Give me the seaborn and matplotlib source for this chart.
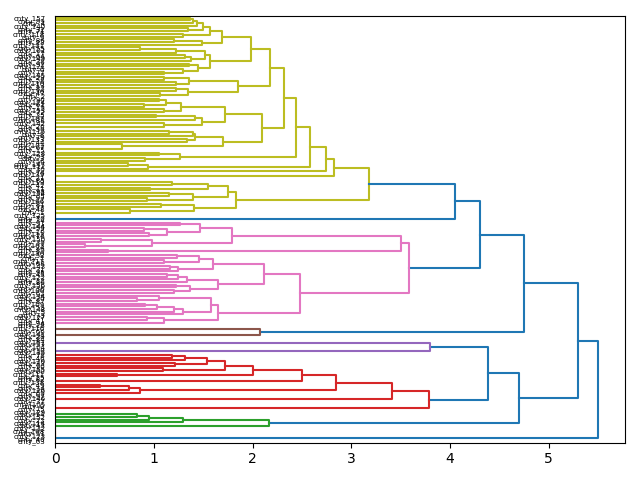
import matplotlib
matplotlib.use("Agg")
import matplotlib.pyplot as plt
import pandas as pd
import seaborn as sns

o = 0  # a leaf

# yellow cluster pieces (top of the chart)
yel_a = [1.57, [1.50, [1.44, [1.40, [1.37, o, o], o], o], [1.35, o, o]], [1.30, o, o]]
yel_b = [1.49, [1.20, o, o], o]
yel_c = [1.57, [1.52, [1.23, [0.86, o, o], o], [1.38, [1.32, o, o], o]],
         [1.45, [1.36, o, o], [1.30, o, [1.10, o, o]]]]
yel_d = [1.85, [1.36, [1.10, o, o], [1.22, o, o]], [1.35, [1.22, o, o], [1.06, o, o]]]
yel_e = [2.10, [1.72, [1.28, [1.12, [1.05, o, o], [0.90, o, o]], [1.10, o, o]],
                [1.49, [1.42, [1.02, o, o], o], [1.10, o, [0.0, o, o]]]],
         [1.70, [1.42, [1.40, [1.15, o, o], o], [1.34, o, o]], [0.68, o, [0.0, o, o]]]]
yel_f = [1.27, [1.05, o, o], [0.91, o, o]]
yel_g = [0.94, [0.74, o, o], o]
yel_h = [1.83, [1.75, [1.55, [1.18, o, o], [0.96, o, o]], [1.40, [1.15, o, o], [0.93, o, o]]],
         [1.41, [1.07, o, o], [0.76, o, [0.0, o, o]]]]
yellow = [3.18, [2.83, [2.74, [2.58, [2.44, [2.32, [2.18, [1.98, [1.69, yel_a, yel_b], yel_c],
                                                    yel_d], yel_e], yel_f], yel_g], o],
                 [0.0, o, [0.0, o, o]]],
          yel_h]

mid_group = [0.0, o, o]

# pink cluster
pnk_1 = [1.47, [1.27, o, o], [1.13, [0.90, o, o], [0.95, o, o]]]
pnk_2 = [0.98, [0.47, o, o], [0.30, o, o]]
pnk_3 = [0.54, o, o]
pnk_l1 = [1.46, [1.24, o, o], [1.10, o, o]]
pnk_l2 = [1.25, [1.16, o, o], o]
pnk_l3 = [1.34, [1.25, [1.13, o, o], o], o]
pnk_l4 = [1.37, [1.22, o, o], [1.20, o, o]]
pnk_l5 = [1.05, o, [0.83, o, o]]
pnk_l6 = [1.30, [1.20, [1.03, [0.91, o, o], o], o], o]
pnk_l7 = [1.10, [0.93, o, o], o]
pink = [3.58, [3.50, [1.79, pnk_1, pnk_2], pnk_3],
        [2.48, [2.12, [1.60, pnk_l1, pnk_l2], [1.65, pnk_l3, pnk_l4]],
         [1.65, [1.58, pnk_l5, pnk_l6], pnk_l7]]]

brown = [2.08, [0.0, [0.0, o, o], o], [0.0, o, o]]
purple = [3.80, [0.0, [0.0, o, o], [0.0, o, o]], [0.0, o, o]]

# red cluster
red_top = [1.32, [1.18, o, o], o]
red_c = [0.86, [0.75, [0.46, o, o], o], o]
red = [3.79, [3.41, [2.85, [2.50, [2.00, [1.72, [1.54, red_top, [1.21, o, o]], [1.09, o, o]],
                                    [0.63, o, o]], [0.0, o, o]], red_c],
              [0.0, [0.0, o, o], [0.0, o, o]]],
       [0.0, o, [0.0, o, o]]]

green = [2.17, [1.30, [0.95, [0.83, o, o], o], o], [0.0, o, o]]
bottom_group = [0.0, [0.0, [0.0, o, o], [0.0, o, o]], o]

tree = [5.50, [5.30, [4.75, [4.30, [4.05, yellow, mid_group], pink], brown],
               [4.70, [4.38, purple, red], green]],
        bottom_group]

label_ids = [157, 99, 4, 140, 32, 71, 118, 9, 86, 23, 131, 55, 102, 17, 64, 149,
             38, 92, 121, 6, 77, 145, 29, 58, 110, 13, 83, 136, 47, 2, 96, 124,
             61, 19, 153, 72, 35, 107, 88, 142, 26, 50, 115, 8, 79, 133, 44, 101,
             67, 15, 128, 93, 3, 56, 147, 112, 30, 74, 139, 21, 85, 119, 42, 11,
             98, 154, 65, 27, 106, 81, 137, 48, 1, 125, 70, 34, 91, 144, 59, 16,
             113, 76, 150, 39, 103, 24, 89, 130, 52, 7, 117, 68, 143, 31, 95, 45,
             122, 12, 80, 156, 36, 100, 62, 134, 20, 87, 109, 53, 148, 5, 73, 127,
             41, 94, 18, 116, 66, 141, 28, 84, 151, 57, 104, 10, 135, 78, 46, 120,
             33, 90, 155, 60, 111, 25, 82, 138, 49, 14, 126, 69, 97, 146, 37, 105,
             0, 75, 129, 54, 152, 22, 114, 43, 132, 108, 51, 123, 40, 63]

top_height = tree[0]
threshold = 0.7 * top_height

leaf_y = []
links = []
cluster_count = [0]


def layout(node, cluster=None):
    if not isinstance(node, list):
        y = 5 + 10 * len(leaf_y)
        leaf_y.append(y)
        return y, 0.0
    h, a, b = node
    if cluster is None and h < threshold:
        cluster = cluster_count[0]
        cluster_count[0] += 1
    ya, ha = layout(a, cluster)
    yb, hb = layout(b, cluster)
    links.append((cluster if h < threshold else None, [ha, h, h, hb], [ya, ya, yb, yb]))
    return (ya + yb) / 2, h


layout(tree)
n = len(leaf_y)
assert n == len(label_ids), n

tab = sns.color_palette("tab10").as_hex()
m = cluster_count[0]
rows = []
for k, (cl, xs, ys) in enumerate(links):
    col = tab[0] if cl is None else tab[1 + (m - 1 - cl) % 9]
    for x, y in zip(xs, ys):
        rows.append({"link": k, "x": x, "y": y, "color": col})
df = pd.DataFrame(rows)

fig = plt.figure(figsize=(6.4, 4.8), dpi=100)
ax = fig.add_subplot(111)
fig.subplots_adjust(left=0.086, right=0.977, top=0.966, bottom=0.078)

sns.lineplot(data=df, x="x", y="y", units="link", hue="color",
             palette={c: c for c in df["color"].unique()},
             estimator=None, sort=False, legend=False, linewidth=1.5, ax=ax)

ax.set_xlim(0, top_height * 1.05)
ax.set_ylim(10 * n, 0)
ax.set_yticks(leaf_y)
ax.set_yticklabels(["cnty_%d" % i for i in label_ids], fontsize=5)
for line in ax.get_yticklines():
    line.set_visible(False)
ax.set_xlabel("")
ax.set_ylabel("")

fig.savefig("out.png", dpi=100)
